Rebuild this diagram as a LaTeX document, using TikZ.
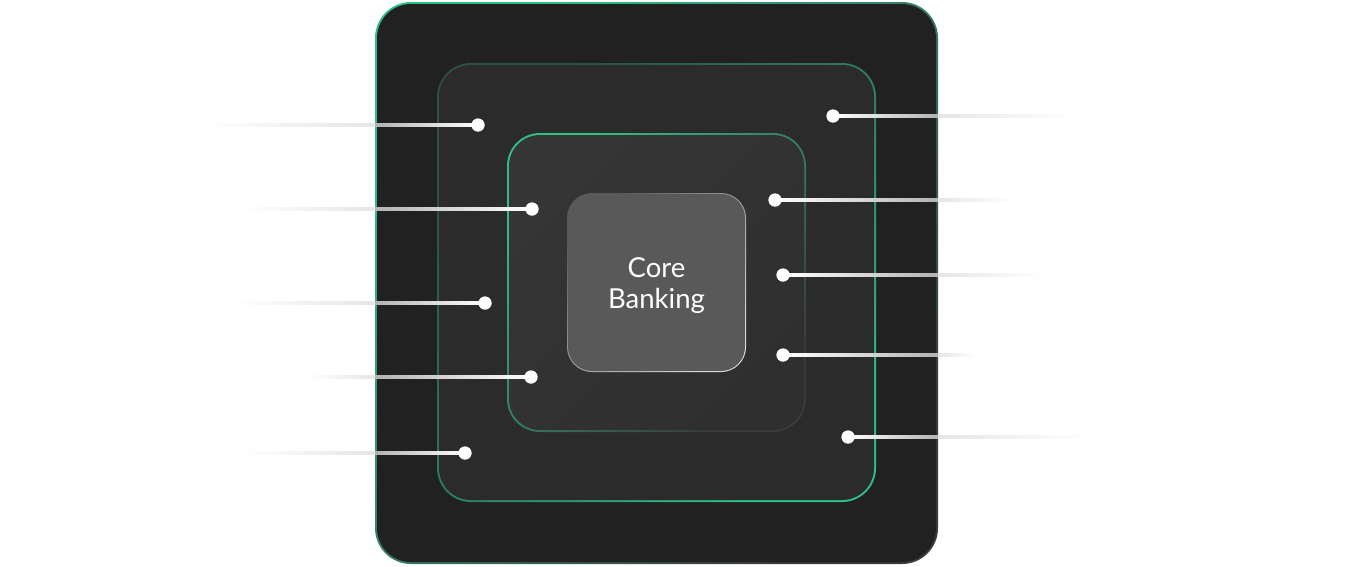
\documentclass[tikz,border=0pt]{standalone}
\usepackage{fontspec}
\setmainfont{Lato}
\usetikzlibrary{positioning,calc}
\definecolor{vert}{HTML}{2FBF86}
\definecolor{fondA}{HTML}{212121}
\definecolor{fondB}{HTML}{2B2B2B}
\definecolor{fondC}{HTML}{353535}
\definecolor{fondCC}{HTML}{2F2F2F}
\definecolor{fondD}{HTML}{595959}
\definecolor{bordgris}{HTML}{3A3A3A}
\tikzset{
  point/.style={circle,fill=white,inner sep=0pt,minimum size=13pt},
}
\begin{document}
\begin{tikzpicture}[x=1pt,y=-1pt]
\useasboundingbox (0,0) rectangle (1367,566);
\fill[white] (0,0) rectangle (1367,566);
% grand cadre
\shade[top color=vert,bottom color=bordgris,middle color=vert!50!bordgris,shading angle=45,rounded corners=36pt] (375,2) rectangle (938,564);
\fill[fondA,rounded corners=34pt] (377,4) rectangle (936,562);
% cadre moyen
\shade[top color=fondB!75!vert,bottom color=vert,middle color=vert!55!fondB,shading angle=45,rounded corners=34pt] (437,63) rectangle (876,502);
\fill[fondB,rounded corners=32pt] (439,65) rectangle (874,500);
% cadre interieur
\shade[top color=vert,bottom color=bordgris,middle color=vert!50!bordgris,shading angle=45,rounded corners=33pt] (507,133) rectangle (806,432);
\shade[top color=fondC,bottom color=fondCC,shading angle=45,rounded corners=31pt] (509,135) rectangle (804,430);
% coeur
\shade[top color=fondD,bottom color=white!85!fondD,shading angle=45,rounded corners=25pt] (567,193) rectangle (746,372);
\node[fill=fondD,minimum size=177pt,inner sep=0pt,rounded corners=24pt,
  text=white,font=\fontsize{27.5}{32}\selectfont,align=center] (coeur) at (656.5,282.5) {};
\node[text=white,font=\fontsize{27.5}{32}\selectfont,align=center] (titre) at (656.5,285.5) {Core\\[-1pt]Banking};
% traits de gauche
\foreach \n/\x/\y/\e in {1/478/125/200,2/532/209/240,3/485/303/230,4/531/377/305,5/465/453/240}{
  \coordinate (lb\n) at (375,\y);
  \coordinate (le\n) at (\e,\y);
  \node[point] (l\n) at (\x,\y) {};
  \shade[left color=white,right color=gray!20] ($(le\n)+(0,-1.2)$) rectangle ($(lb\n)+(0,1.2)$);
  \shade[left color=gray!60,right color=white] ($(lb\n)+(0,-1.2)$) rectangle ($(l\n.center)+(0,1.2)$);
  \node[point] at (l\n) {};
}
% traits de droite
\foreach \n/\x/\y/\e in {1/833/116/1075,2/775/200/1015,3/783/275/1045,4/783/355/975,5/848/437/1090}{
  \coordinate (rb\n) at (938,\y);
  \coordinate (re\n) at (\e,\y);
  \node[point] (r\n) at (\x,\y) {};
  \shade[left color=white,right color=gray!60] ($(r\n.center)+(0,-1.2)$) rectangle ($(rb\n)+(0,1.2)$);
  \shade[left color=gray!20,right color=white] ($(rb\n)+(0,-1.2)$) rectangle ($(re\n)+(0,1.2)$);
  \node[point] at (r\n) {};
}
\end{tikzpicture}
\end{document}
